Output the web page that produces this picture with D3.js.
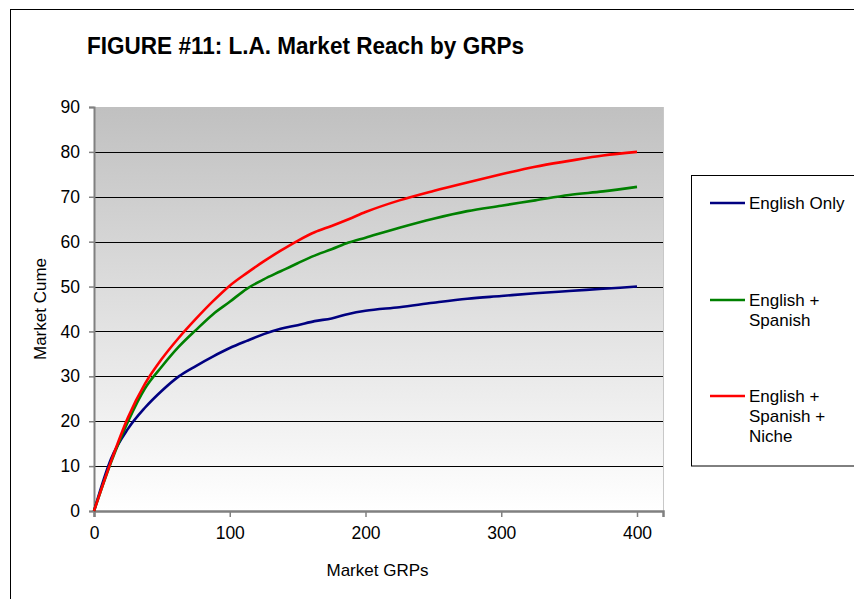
<!DOCTYPE html>
<html><head><meta charset="utf-8">
<script src="https://cdn.jsdelivr.net/npm/d3@7"></script>
<style>
html,body{margin:0;padding:0;background:#fff;}
text{font-family:"Liberation Sans",Arial,sans-serif;}
</style></head>
<body>
<svg id="chart" width="854" height="599"></svg>
<script>
const grps = [0,12.5,25,37.5,50,62.5,75,87.5,100,112.5,125,137.5,150,162.5,175,187.5,200,225,250,275,300,325,350,375,400];
const englishOnly = [0,11.6,18.3,23.0,26.8,30.0,32.3,34.4,36.3,37.9,39.4,40.6,41.4,42.3,42.9,43.9,44.6,45.4,46.4,47.3,47.9,48.5,49.0,49.5,50.0];
const englishSpanish = [0,10.8,19.9,27.3,32.2,36.6,40.3,43.8,46.6,49.5,51.6,53.4,55.2,56.9,58.3,59.8,60.9,63.1,65.1,66.8,68.0,69.2,70.4,71.2,72.2];
const englishSpanishNiche = [0,11.0,20.8,28.3,33.9,38.6,42.8,46.7,50.2,53.0,55.6,58.0,60.2,62.1,63.5,65.0,66.6,69.2,71.3,73.2,75.0,76.7,78.0,79.2,80.0];
const seriesNames = ["English Only","English + Spanish","English + Spanish + Niche"];
const legendLines = [["English Only"],["English +","Spanish"],["English +","Spanish +","Niche"]];
const seriesColors = ["#000080","#008000","#ff0000"];
const yTicks = [0,10,20,30,40,50,60,70,80,90];
const xTicks = [0,100,200,300,400];
const titleText = "FIGURE #11: L.A. Market Reach by GRPs";
const xTitle = "Market GRPs";
const yTitle = "Market Cume";

const series = [englishOnly, englishSpanish, englishSpanishNiche].map((vals,i)=>({
  name: seriesNames[i], color: seriesColors[i], lines: legendLines[i],
  values: grps.map((g,j)=>({x:g, y:vals[j]}))
}));

const svg = d3.select("#chart");
const L = 94, R = 663, T = 107, B = 511;
const x = d3.scaleLinear().domain([0, 400*(R-L)/543]).range([L, R]);
const y = d3.scaleLinear().domain([0, 90]).range([B, T]);

// outer border
svg.append("rect").attr("x",10.5).attr("y",9.5).attr("width",900).attr("height",700)
  .attr("fill","#fff").attr("stroke","#000").attr("stroke-width",1);

// title
svg.append("text").attr("x",87).attr("y",54).attr("font-size",23).attr("font-weight","bold")
  .attr("textLength",437).attr("lengthAdjust","spacingAndGlyphs")
  .attr("fill","#000").text(titleText);

// plot background gradient
const defs = svg.append("defs");
const grad = defs.append("linearGradient").attr("id","bg").attr("x1",0).attr("y1",0).attr("x2",0).attr("y2",1);
grad.append("stop").attr("offset","0%").attr("stop-color","#c0c0c0");
grad.append("stop").attr("offset","100%").attr("stop-color","#ffffff");
svg.append("rect").attr("x",L).attr("y",T).attr("width",R-L).attr("height",B-T).attr("fill","url(#bg)");
svg.append("line").attr("x1",R+0.5).attr("x2",R+0.5).attr("y1",T).attr("y2",B).attr("stroke","#c8c8c8");

// gridlines
svg.append("g").selectAll("line").data(yTicks.filter(d=>d>0 && d<90)).join("line")
  .attr("x1",L).attr("x2",R).attr("y1",d=>Math.round(y(d))+0.5).attr("y2",d=>Math.round(y(d))+0.5)
  .attr("stroke","#000").attr("stroke-width",1);

// y axis
const yAxis = svg.append("g").attr("transform",`translate(${L},0)`)
  .call(d3.axisLeft(y).tickValues(yTicks).tickSize(5).tickPadding(9));
yAxis.select(".domain").attr("stroke","#808080").attr("stroke-width",2);
yAxis.selectAll(".tick line").attr("stroke","#808080").attr("stroke-width",1.5);
yAxis.selectAll("text").attr("font-size",17.5).attr("fill","#000").attr("font-family","'Liberation Sans',Arial,sans-serif");

// x axis
const xAxis = svg.append("g").attr("transform",`translate(0,${B})`)
  .call(d3.axisBottom(x).tickValues(xTicks).tickSize(6).tickPadding(10));
xAxis.select(".domain").attr("stroke","#808080").attr("stroke-width",2.5);
xAxis.selectAll(".tick line").attr("stroke","#808080").attr("stroke-width",1.5);
xAxis.selectAll("text").attr("font-size",17.5).attr("fill","#000").attr("font-family","'Liberation Sans',Arial,sans-serif");

// axis titles
svg.append("text").attr("x",(L+R)/2 - 1).attr("y",576).attr("text-anchor","middle").attr("font-size",17).text(xTitle);
svg.append("text").attr("transform",`translate(46,${(T+B)/2}) rotate(-90)`).attr("text-anchor","middle")
  .attr("font-size",17).text(yTitle);

// lines
const line = d3.line().x(d=>x(d.x)).y(d=>y(d.y)).curve(d3.curveMonotoneX);
svg.append("g").selectAll("path").data(series).join("path")
  .attr("d",d=>line(d.values)).attr("fill","none").attr("stroke",d=>d.color)
  .attr("stroke-width",2.6).attr("stroke-linejoin","round");

// legend
svg.append("rect").attr("x",691.5).attr("y",175.5).attr("width",200).attr("height",290.5)
  .attr("fill","#fff").attr("stroke","#000").attr("stroke-width",1);
const legY = [203, 300, 396];
const lg = svg.append("g").selectAll("g").data(series).join("g")
  .attr("transform",(d,i)=>`translate(0,${legY[i]})`);
lg.append("line").attr("x1",710).attr("x2",745).attr("y1",0).attr("y2",0)
  .attr("stroke",d=>d.color).attr("stroke-width",2.6);
lg.each(function(d){
  const g = d3.select(this);
  d.lines.forEach((t,k)=>{
    g.append("text").attr("x",749).attr("y",6+k*20).attr("font-size",17).attr("fill","#000").text(t);
  });
});
</script>
</body></html>
